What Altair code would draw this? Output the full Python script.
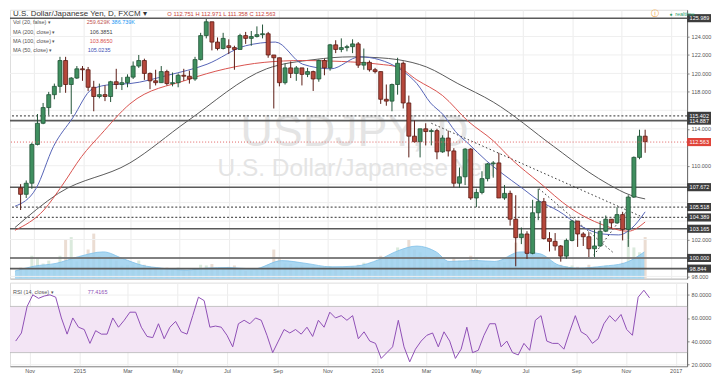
import altair as alt
import pandas as pd

FONT = "Liberation Sans"
W, H1, H2 = 680, 270, 84

# ---------------- data (weekly candles) ----------------
week_start = "2014-10-15"

opens = [107.6,106.9,108.1,112.3,114.6,116.3,117.7,118.6,121.4,118.8,
         119.5,120.5,120.4,118.5,117.5,117.7,117.5,119.1,118.8,119.0,
         119.6,120.8,121.4,120.0,119.2,119.0,120.2,118.9,119.0,119.8,
         119.7,119.4,121.5,124.1,125.6,123.4,122.7,123.0,122.8,122.6,
         124.1,123.8,124.0,124.2,124.3,122.0,121.7,119.0,120.6,120.0,
         120.6,119.9,120.2,119.4,121.4,120.6,123.1,122.6,122.8,122.9,
         123.2,120.9,121.2,120.4,120.2,117.2,117.0,118.8,121.1,116.8,
         113.2,112.6,114.0,113.7,113.8,111.5,113.0,111.6,108.1,108.8,
         111.8,106.5,107.1,108.6,110.2,110.3,106.5,107.0,104.2,102.2,
         102.6,100.5,104.9,106.1,102.1,101.8,101.3,100.2,101.9,104.0,
         102.6,102.3,101.0,101.3,102.9,104.2,103.8,104.7,103.1,106.6,
         110.9,113.2]
highs = [108.0,108.4,112.5,115.6,116.8,118.0,118.9,121.8,121.8,119.6,
         120.8,120.8,120.7,119.2,118.9,118.7,119.2,120.5,119.6,119.9,
         121.3,122.0,121.6,120.1,120.4,120.8,120.4,120.1,120.0,120.5,
         120.3,121.8,124.4,125.9,125.6,123.9,124.4,123.7,123.0,124.3,
         124.5,124.6,125.1,125.3,124.5,122.0,121.7,121.1,121.3,120.8,
         120.6,120.6,120.3,121.5,121.6,123.2,123.6,123.8,123.1,123.7,
         123.4,122.7,121.4,120.6,120.2,118.8,118.9,121.7,121.3,117.6,
         114.9,114.0,114.6,114.0,114.0,113.3,113.8,111.9,109.8,111.9,
         111.9,107.5,109.4,110.3,110.5,111.4,107.9,107.3,106.8,103.3,
         102.9,106.3,107.5,106.5,102.8,102.7,101.4,102.1,104.1,104.0,
         102.8,102.8,103.1,104.0,104.6,104.2,105.5,105.0,106.8,111.0,
         113.9,113.9]
lows = [105.2,106.5,107.5,112.2,114.5,115.5,117.2,117.9,117.9,115.6,
        119.4,119.2,118.1,115.9,117.3,117.0,116.9,118.3,118.2,118.5,
        119.4,120.6,119.3,118.3,118.7,119.0,118.7,118.6,118.5,119.2,
        118.9,119.2,121.4,123.8,122.5,122.5,122.6,122.1,120.4,122.6,
        123.2,123.0,123.9,123.8,121.7,116.2,118.6,118.8,119.5,119.2,
        118.7,119.6,118.1,119.1,119.8,120.3,122.2,122.3,122.4,122.2,
        120.6,120.4,120.2,120.0,116.7,116.5,115.9,117.7,116.2,110.9,
        112.5,110.9,112.2,112.2,110.7,111.4,111.0,107.7,107.6,107.9,
        106.3,105.5,106.9,108.3,108.7,106.5,106.3,103.5,99.1,101.5,
        99.9,100.4,104.1,102.0,100.7,100.8,99.6,99.9,101.8,101.2,
        101.3,100.1,100.1,101.2,102.8,103.2,103.7,101.9,101.2,106.5,
        110.7,111.4]
closes = [106.9,108.1,112.3,114.6,116.3,117.7,118.6,121.4,118.8,119.5,
          120.5,120.4,118.5,117.5,117.7,117.5,119.1,118.8,119.0,119.6,
          120.8,121.4,120.0,119.2,119.0,120.2,118.9,119.0,119.8,119.7,
          119.4,121.5,124.1,125.6,123.4,122.7,123.8,122.8,122.6,124.1,
          123.8,124.0,124.2,124.3,122.0,121.7,119.0,120.6,120.0,120.6,
          119.9,120.2,119.4,121.4,120.6,123.1,122.6,122.8,122.9,123.2,
          120.9,121.2,120.4,120.2,117.2,117.0,118.8,121.1,116.8,113.2,
          112.6,114.0,113.7,113.8,111.5,113.0,111.6,108.1,108.8,111.8,
          106.5,107.1,108.6,110.2,110.3,106.5,107.0,104.2,102.2,102.6,
          100.5,104.9,106.1,102.1,101.8,101.3,100.2,101.9,104.0,102.6,
          102.3,101.0,101.3,102.9,104.2,103.8,104.7,103.1,106.6,110.9,
          113.2,112.6]
volumes = [160,130,330,300,220,260,180,330,560,600,
           250,280,420,650,330,280,330,260,190,200,
           220,260,200,170,160,150,160,130,160,120,
           110,140,200,190,210,150,150,170,190,130,
           110,120,130,140,200,420,300,220,210,180,
           190,160,170,160,170,180,140,150,110,180,
           200,230,140,110,330,300,330,450,420,560,
           420,380,330,300,330,230,240,300,260,240,
           330,300,220,200,180,260,240,330,520,380,
           330,380,320,330,250,200,200,180,190,170,
           140,200,170,170,190,150,180,230,800,450,
           380,600]
rsi_vals = [40,47,70,80,77,79,80,78,60,46,
            60,52,50,38,49,46,46,60,52,58,
            65,65,52,44,43,55,42,52,57,48,
            46,62,78,75,52,53,52,45,35,55,
            58,55,60,58,45,30,40,50,47,50,
            46,52,44,58,52,65,60,62,58,62,
            42,48,40,38,25,30,35,58,35,22,
            33,40,45,47,35,48,40,25,33,52,
            30,32,45,55,55,35,40,30,28,38,
            32,58,62,40,38,38,33,48,62,48,
            45,38,42,55,62,57,63,50,45,78,
            84,77.4]

ma200_dates = ["2014-10-08","2014-12-01","2015-02-28","2015-05-10","2015-08-17","2015-10-15",
               "2015-12-01","2016-01-04","2016-01-27","2016-03-03","2016-04-11","2016-05-25",
               "2016-08-08","2016-09-21","2016-10-15","2016-11-12","2016-11-30"]
ma200_vals = [103.3,107.0,110.3,114.8,120.5,121.5,121.8,121.7,121.5,120.7,118.9,116.9,
              112.1,109.3,108.0,106.8,106.4]
ma100_dates = ["2014-10-08","2014-11-13","2014-12-06","2014-12-30","2015-01-23","2015-02-28",
               "2015-05-10","2015-06-27","2015-08-14","2015-10-01","2015-11-18","2016-01-04",
               "2016-01-27","2016-02-20","2016-03-23","2016-04-24","2016-05-25","2016-06-18",
               "2016-07-21","2016-08-29","2016-10-08","2016-11-09","2016-11-30"]
ma100_vals = [103.0,105.2,107.9,111.0,113.4,116.7,119.3,120.5,121.2,121.4,121.3,121.0,
              120.7,119.3,117.6,114.8,112.7,110.6,108.2,105.4,103.6,102.9,103.9]
ma50_dates = ["2014-10-08","2014-11-03","2014-11-25","2014-12-19","2015-01-12","2015-02-05",
              "2015-02-28","2015-04-16","2015-06-04","2015-07-22","2015-08-28","2015-10-01",
              "2015-11-05","2015-12-11","2016-01-04","2016-01-31","2016-02-20","2016-03-08",
              "2016-03-24","2016-04-08","2016-04-24","2016-05-17","2016-06-03","2016-07-01",
              "2016-07-21","2016-08-14","2016-09-10","2016-10-08","2016-10-28","2016-11-13",
              "2016-11-30"]
ma50_vals = [105.6,107.5,112.1,115.2,118.3,118.8,118.9,119.8,121.0,123.0,123.4,121.0,
             120.5,121.8,121.5,120.4,118.9,116.8,115.5,113.7,112.4,110.5,109.3,107.5,
             106.2,105.1,103.5,102.6,102.5,103.2,105.0]
vma_dates = ["2014-10-08","2014-11-01","2014-11-28","2014-12-26","2015-01-26","2015-02-19",
             "2015-03-15","2015-04-08","2015-05-10","2015-06-03","2015-07-01","2015-08-01",
             "2015-09-05","2015-10-05","2015-11-05","2015-12-05","2016-01-05","2016-01-27",
             "2016-02-20","2016-03-15","2016-03-31","2016-05-03","2016-05-27","2016-06-28",
             "2016-07-22","2016-08-15","2016-09-08","2016-10-09","2016-11-03","2016-11-29"]
vma_vals = [110,180,220,317,386,290,193,152,124,152,160,140,260,220,170,180,280,400,
            470,386,248,262,248,386,359,193,152,180,220,386]

trend_d1 = ["2016-03-09", "2016-07-21", "2016-09-27"]
trend_p1 = [114.6, 107.5, 100.3]
trend_d2 = ["2016-11-30", "2016-10-21", "2016-11-08"]
trend_p2 = [104.3, 100.6, 105.2]

level_vals = [125.989, 115.402, 114.887, 107.672, 105.518, 104.389, 103.165, 100.000, 98.844]
level_style = ["solid", "dot", "solid", "solid", "dot", "dot", "solid", "solid", "solid"]
last_price = 112.563

price_grid = [98, 100, 102, 104, 106, 108, 110, 112, 114, 116, 118, 120, 122, 124]
price_ticks = [98, 102, 110, 114, 118, 120, 122, 124]   # the others sit under label boxes
rsi_ticks = [20, 40, 60, 80]
rsi_band = [30, 70]
tick_dates = ["2014-11-01", "2015-01-01", "2015-03-01", "2015-05-01", "2015-07-01", "2015-09-01",
              "2015-11-01", "2016-01-01", "2016-03-01", "2016-05-01", "2016-07-01", "2016-09-01",
              "2016-11-01", "2017-01-01"]

# ---------------- frames ----------------
dates = [d.strftime("%Y-%m-%d") for d in pd.date_range(week_start, periods=len(opens), freq="7D")]
candles = pd.DataFrame(dict(date=dates, open=opens, high=highs, low=lows, close=closes,
                            vol=volumes, rsi=rsi_vals))
ma200 = pd.DataFrame(dict(date=ma200_dates, value=ma200_vals))
ma100 = pd.DataFrame(dict(date=ma100_dates, value=ma100_vals))
ma50 = pd.DataFrame(dict(date=ma50_dates, value=ma50_vals))
vma = pd.DataFrame(dict(date=vma_dates, vol=vma_vals))
trends = pd.DataFrame(dict(d1=trend_d1, p1=trend_p1, d2=trend_d2, p2=trend_p2))
levels = pd.DataFrame(dict(value=level_vals, style=level_style))
boxes = pd.DataFrame(dict(value=level_vals + [last_price],
                          label=[f"{v:.3f}" for v in level_vals + [last_price]],
                          kind=["level"] * len(level_vals) + ["last"]))
grid_df = pd.DataFrame(dict(value=price_grid))
one = pd.DataFrame({"a": [0]})


def utc(s):
    y, m, d = (int(v) for v in s.split("-"))
    return alt.DateTime(year=y, month=m, date=d, utc=True)


x_scale = alt.Scale(type="utc", domain=[utc("2014-10-08"), utc("2017-01-15")], nice=False)
y_scale = alt.Scale(domain=[97.76, 126.9], zero=False, nice=False)
vol_scale = alt.Scale(domain=[0, 3880], nice=False)
rsi_scale = alt.Scale(domain=[18.2, 90.6], zero=False, nice=False)

tick_vals = [utc(d) for d in tick_dates]
x_axis_p = alt.Axis(title=None, values=tick_vals, labels=False, ticks=False,
                    domainColor="#b8b8b8", gridColor="#ececec", gridWidth=1)
x_axis_r = alt.Axis(title=None, values=tick_vals, ticks=False, labelFontSize=5.5,
                    labelColor="#555", labelPadding=2, labelFont=FONT,
                    labelExpr="utcmonth(datum.value) == 0 ? utcFormat(datum.value, '%Y') : utcFormat(datum.value, '%b')",
                    domainColor="#8a8a8a", gridColor="#ececec", gridWidth=1)
y_axis_p = alt.Axis(title=None, orient="right", values=price_ticks, format=".3f",
                    labelFontSize=5.5, labelColor="#555", labelPadding=2, labelFont=FONT,
                    tickSize=2, tickColor="#888", domainColor="#666", grid=False)
y_axis_r = alt.Axis(title=None, orient="right", values=rsi_ticks, format=".4f",
                    labelFontSize=5.5, labelColor="#555", labelPadding=2, labelFont=FONT,
                    tickSize=2, tickColor="#888", domainColor="#666",
                    gridColor="#efefef", gridWidth=1)

XP = alt.X("date:T", scale=x_scale, axis=x_axis_p)
up_cond = alt.datum.close >= alt.datum.open


def txt(text, x, y, size=5.5, color="#555", align="left", weight="normal"):
    return alt.Chart(one).mark_text(text=text, align=align, baseline="middle", fontSize=size,
                                    color=color, font=FONT, fontWeight=weight).encode(
        x=alt.value(x), y=alt.value(y))


# ---------------- volume ----------------
vol_y = alt.Y("vol:Q", scale=vol_scale, axis=None)
vol_bars = alt.Chart(candles).mark_bar(size=3, opacity=0.75).encode(
    x=XP, y=vol_y,
    fill=alt.condition(up_cond, alt.value("#cfe3d2"), alt.value("#e4d2c4")))
vol_area = alt.Chart(vma).mark_area(color="#9bd0ee", opacity=0.85, interpolate="monotone",
                                    line={"color": "#7fc0e8", "strokeWidth": 0.8}).encode(
    x=XP, y=vol_y)
vol_group = alt.layer(vol_bars, vol_area)

# ---------------- price ----------------
YP = lambda f: alt.Y(f, scale=y_scale, axis=y_axis_p)

grid_rules = alt.Chart(grid_df).mark_rule(color="#efefef", strokeWidth=1).encode(y=YP("value:Q"))
wm1 = txt("USDJPY, D", 346, 123, size=45, color="#e4e4e4", align="center")
wm2 = txt("U.S. Dollar/Japanese Yen", 348, 160, size=24.5, color="#e4e4e4", align="center")

lv_solid = alt.Chart(levels).transform_filter(alt.datum.style == "solid").mark_rule(
    color="#5a5a5a", strokeWidth=1.6).encode(y=YP("value:Q"))
lv_dot = alt.Chart(levels).transform_filter(alt.datum.style == "dot").mark_rule(
    color="#5a5a5a", strokeWidth=1.2, strokeDash=[2, 2]).encode(y=YP("value:Q"))
trend_lines = alt.Chart(trends).mark_rule(color="#333", strokeWidth=1, strokeDash=[1.5, 2.5]).encode(
    x=alt.X("d1:T", scale=x_scale, axis=x_axis_p), x2="d2:T", y=YP("p1:Q"), y2="p2:Q")

l200 = alt.Chart(ma200).mark_line(color="#5a5a5a", strokeWidth=1, interpolate="monotone").encode(
    x=XP, y=YP("value:Q"))
l100 = alt.Chart(ma100).mark_line(color="#d9534f", strokeWidth=1, interpolate="monotone").encode(
    x=XP, y=YP("value:Q"))
l50 = alt.Chart(ma50).mark_line(color="#5664b6", strokeWidth=1, interpolate="monotone").encode(
    x=XP, y=YP("value:Q"))

wicks = alt.Chart(candles).mark_rule(strokeWidth=1).encode(
    x=XP, y=YP("low:Q"), y2="high:Q",
    stroke=alt.condition(up_cond, alt.value("#225437"), alt.value("#5b1a13")))
bodies = alt.Chart(candles).mark_bar(size=4, strokeWidth=0.8).encode(
    x=XP, y=YP("open:Q"), y2="close:Q",
    fill=alt.condition(up_cond, alt.value("#3f8f5f"), alt.value("#b5473b")),
    stroke=alt.condition(up_cond, alt.value("#225437"), alt.value("#5b1a13")))

last_line = alt.Chart(pd.DataFrame({"value": [last_price]})).mark_rule(
    color="#e06060", strokeWidth=1, strokeDash=[1, 2]).encode(y=YP("value:Q"))

box_shape = "M -1 -0.34 H 1 V 0.34 H -1 Z"
box_marks = alt.Chart(boxes).mark_point(shape=box_shape, size=576, filled=True, opacity=1,
                                        strokeWidth=0).encode(
    x=alt.value(W + 12), y=YP("value:Q"),
    fill=alt.condition(alt.datum.kind == "last", alt.value("#e0443a"), alt.value("#3d3d3d")))
box_text = alt.Chart(boxes).mark_text(align="left", baseline="middle", fontSize=5.5, color="white",
                                      font=FONT).encode(
    x=alt.value(W + 2.5), y=YP("value:Q"), text="label:N")

header = [
    txt("U.S. Dollar/Japanese Yen, D, FXCM \u25be", 3, 4.5, size=8, color="#333"),
    txt("O 112.751  H 112.971  L 111.358  C 112.563", 158, 4.5, size=5.8, color="#c8453a"),
    txt("Vol (20, false) \u25be", 3, 12.5),
    txt("259.629K", 77, 12.5, color="#c0504d"),
    txt("386.739K", 102, 12.5, color="#2196f3"),
    txt("MA (200, close) \u25be", 3, 22),
    txt("106.3851", 80, 22, color="#444"),
    txt("MA (100, close) \u25be", 3, 31.5),
    txt("103.8650", 80, 31.5, color="#d9534f"),
    txt("MA (50, close) \u25be", 3, 40.5),
    txt("105.0235", 78, 40.5, color="#3f51b5"),
    txt("\u24d8", 648, 4.5, size=8, color="#f0a030", align="center"),
    txt("\u25cf", 664, 4.5, size=5, color="#2e9e6a", align="center"),
    txt("realtime", 668, 4.5, size=5.5, color="#2e9e6a"),
]

price_group = alt.layer(grid_rules, wm1, wm2, lv_solid, lv_dot, trend_lines, l200, l100, l50,
                        wicks, bodies, last_line, box_marks, box_text, *header)
price_panel = alt.layer(vol_group, price_group).resolve_scale(y="independent").properties(
    width=W, height=H1)

# ---------------- RSI ----------------
XR = alt.X("date:T", scale=x_scale, axis=x_axis_r)
YR = lambda f: alt.Y(f, scale=rsi_scale, axis=y_axis_r)
band = alt.Chart(pd.DataFrame({"hi": [rsi_band[1]], "lo": [rsi_band[0]]})).mark_rect(
    color="#f3e5f5").encode(x=alt.value(0), x2=alt.value(W), y=YR("hi:Q"), y2="lo:Q")
band_lines = alt.Chart(pd.DataFrame({"rsi": rsi_band})).mark_rule(
    color="#b4b4b4", strokeWidth=0.8).encode(y=YR("rsi:Q"))
rsi_line = alt.Chart(candles).mark_line(color="#8e4fb5", strokeWidth=1).encode(x=XR, y=YR("rsi:Q"))
rsi_panel = alt.layer(band, band_lines, rsi_line,
                      txt("RSI (14, close) \u25be", 3, 9.5),
                      txt("77.4165", 78, 9.5, color="#8e4fb5")).properties(width=W, height=H2)

chart = alt.vconcat(price_panel, rsi_panel, spacing=1).properties(
    padding={"left": 0, "top": 0, "right": 0, "bottom": 0}
).configure_view(stroke=None).configure(font=FONT)

chart.save("out.html", embed_options={"renderer": "svg", "actions": False})
